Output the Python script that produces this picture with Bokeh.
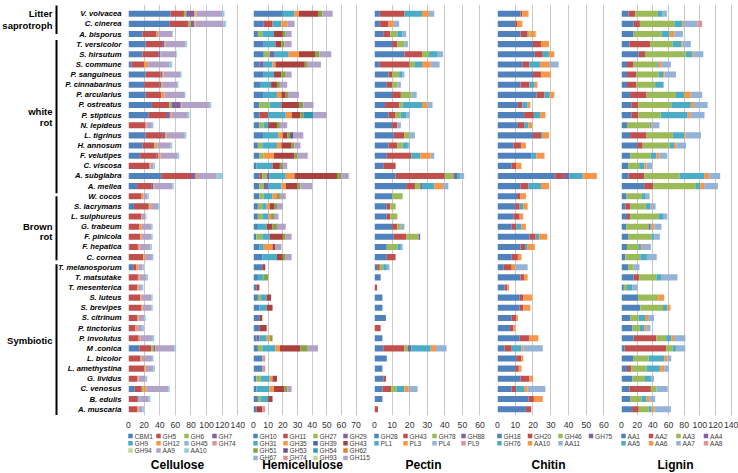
from bokeh.plotting import figure
from bokeh.models import Range1d, FixedTicker, ColumnDataSource, Spacer
from bokeh.layouts import row, column
from bokeh.core.properties import value
from bokeh.embed import file_html
from bokeh.resources import INLINE

species = ["V. volvacea", "C. cinerea", "A. bisporus", "T. versicolor", "S. hirsutum",
           "S. commune", "P. sanguineus", "P. cinnabarinus", "P. arcularius", "P. ostreatus",
           "P. stipticus", "N. lepideus", "L. tigrinus", "H. annosum", "F. velutipes",
           "C. viscosa", "A. subglabra", "A. mellea", "W. cocos", "S. lacrymans",
           "L. sulphureus", "G. trabeum", "F. pinicola", "F. hepatica", "C. cornea",
           "T. melanosporum", "T. matsutake", "T. mesenterica", "S. luteus", "S. brevipes",
           "S. citrinum", "P. tinctorius", "P. involutus", "M .conica", "L. bicolor",
           "L. amethystina", "G. lividus", "C. venosus", "B. edulis", "A. muscaria"]

group_text = ["Litter", "saprotroph", "white", "rot", "Brown", "rot", "Symbiotic"]
group_text_row = [0.0, 1.15, 9.65, 10.75, 21.0, 22.0, 32.2]
group_line_start = [-0.8, 2.6, 18.0, 24.7]
group_line_end = [2.0, 17.7, 24.3, 39.7]

# ---------------- Cellulose ----------------
cel_names = ["CBM1", "GH5", "GH6", "GH7", "GH9", "GH12", "GH45", "GH74", "GH94", "AA9", "AA10"]
cel_CBM1 = [54,53,18,22,18,4,22,20,22,30, 26,0,22,18,15,0,42,11,0,7, 0,0,0,1,0,6,0,0,0,0, 0,0,0,14,0,0,0,8,0,0]
cel_GH5 = [17,24,18,21,20,16,19,20,20,22, 22,22,22,15,21,27,38,18,16,19, 16,14,15,11,19,4,12,11,15,16, 11,9,13,15,15,20,11,9,12,11]
cel_GH6 = [3,3,0,0,0,0,0,0,0,3, 0,0,0,2,0,0,0,0,0,1, 0,0,0,0,0,0,0,0,0,0, 0,0,0,3,0,0,0,2,0,0]
cel_GH7 = [10,4,0,3,3,0,2,2,0,12, 5,0,3,0,2,0,6,3,0,0, 0,0,0,0,0,0,0,0,0,0, 0,0,0,2,0,0,0,0,0,0]
cel_GH9 = [0,0,0,0,0,0,0,0,0,0, 0,0,0,0,0,0,1,0,0,0, 0,0,0,0,0,0,0,0,0,0, 0,0,0,0,0,0,0,0,0,0]
cel_GH12 = [2,2,2,1,0,5,2,2,4,1, 2,1,2,2,3,1,2,1,3,2, 1,3,2,2,2,3,2,2,2,2, 2,2,2,1,2,2,2,4,0,2]
cel_GH45 = [0,0,1,0,1,0,0,0,0,0, 0,0,0,0,0,0,0,0,0,0, 0,0,0,0,0,0,0,0,0,0, 0,0,0,0,0,0,0,0,3,0]
cel_GH74 = [1,0,0,0,0,0,0,0,0,0, 0,0,0,0,0,0,0,0,0,0, 0,0,0,0,0,0,0,0,0,0, 0,0,0,0,0,0,0,0,0,0]
cel_GH94 = [0,0,0,0,0,0,0,0,0,0, 0,0,0,0,0,0,0,0,0,0, 0,0,0,0,0,0,0,0,0,0, 0,0,0,0,0,0,0,0,0,0]
cel_AA9 = [33,36,17,26,19,27,21,19,25,36, 21,7,23,17,22,4,24,23,5,9, 5,12,12,14,9,5,9,4,12,11, 7,7,15,24,13,10,9,28,10,5]
cel_AA10 = [3,3,1,2,1,4,2,1,2,2, 2,2,2,2,2,2,8,2,2,2, 1,2,2,2,2,2,2,2,2,2, 2,2,3,2,2,2,2,2,3,2]
cel_ticks = [0, 20, 40, 60, 80, 100, 120, 140]

# ---------------- Hemicellulose ----------------
hem_names = ["GH10", "GH11", "GH27", "GH29", "GH31", "GH35", "GH39", "GH43",
             "GH51", "GH53", "GH54", "GH62", "GH67", "GH74", "GH93", "GH115"]
hem_GH10 = [20,7,3,7,7,4,7,5,7,4, 4,4,7,3,4,2,4,4,4,3, 3,3,2,4,6,6,3,2,3,4, 4,4,2,3,6,6,2,2,3,2]
hem_GH11 = [0,6,0,0,0,0,0,0,0,0, 6,0,0,0,0,0,2,0,0,0, 0,0,0,0,0,0,0,0,0,0, 0,0,0,0,0,0,0,0,0,0]
hem_GH27 = [0,0,3,0,4,0,0,0,0,7, 0,3,0,3,3,0,3,3,3,3, 3,0,4,0,0,0,0,0,2,0, 0,0,0,3,0,0,3,0,2,0]
hem_GH29 = [0,0,0,0,3,3,0,0,0,0, 0,0,0,0,0,0,2,3,0,0, 0,0,0,0,0,0,0,0,0,0, 0,0,2,0,0,0,0,0,0,0]
hem_GH31 = [8,6,8,8,10,6,7,7,9,8, 12,3,10,10,0,11,11,9,6,3, 4,6,5,3,10,0,4,0,4,5, 0,0,5,9,0,0,6,9,5,0]
hem_GH35 = [3,4,0,0,7,2,0,0,3,0, 4,0,3,3,7,0,6,3,3,2, 2,0,0,6,0,0,0,0,0,0, 0,0,2,3,0,0,2,3,0,0]
hem_GH39 = [0,0,0,0,0,0,0,0,0,0, 0,0,0,0,0,0,0,0,0,0, 0,0,0,0,0,0,0,0,0,0, 0,0,0,0,0,0,0,0,0,0]
hem_GH43 = [13,0,6,4,11,20,5,4,3,12, 6,6,3,7,14,5,29,8,0,3, 0,4,9,2,4,2,0,2,3,4, 2,5,0,14,0,0,3,7,3,4]
hem_GH51 = [3,0,2,2,3,2,3,2,2,3, 2,2,2,2,2,2,3,2,2,2, 2,3,2,0,2,0,3,0,0,0, 0,0,2,5,0,0,0,2,0,0]
hem_GH53 = [0,0,0,0,0,0,0,0,0,0, 0,0,2,0,0,0,0,0,0,0, 0,0,0,0,0,0,0,0,0,0, 0,0,0,0,0,0,0,0,0,0]
hem_GH54 = [0,0,0,0,0,0,0,0,0,0, 7,0,0,0,0,0,0,0,0,0, 0,0,0,0,0,0,0,0,0,0, 0,0,0,0,0,0,0,0,0,0]
hem_GH62 = [0,0,0,0,0,0,0,0,0,0, 0,0,0,0,0,0,0,0,0,0, 0,0,0,0,0,0,0,0,0,0, 0,0,0,0,0,0,0,0,0,0]
hem_GH67 = [0,0,0,0,0,0,0,0,0,0, 0,0,0,0,0,0,0,0,0,0, 0,0,0,0,0,0,0,0,0,0, 0,0,0,0,0,0,0,0,0,0]
hem_GH74 = [0,0,0,0,0,0,0,0,0,0, 0,0,0,0,0,0,0,0,0,0, 0,0,0,0,0,0,0,0,0,0, 0,0,0,0,2,2,0,0,0,2]
hem_GH93 = [0,0,0,0,0,0,0,0,0,0, 0,0,0,0,0,0,0,0,0,0, 0,0,0,0,0,0,0,0,0,0, 0,0,0,0,0,0,0,0,0,0]
hem_GH115 = [7,5,4,5,8,9,4,5,7,7, 9,5,7,4,7,3,5,8,4,4, 3,6,4,4,4,0,0,0,0,0, 0,0,0,7,0,0,0,3,0,0]
hem_ticks = [0, 10, 20, 30, 40, 50, 60, 70]

# ---------------- Pectin ----------------
pec_names = ["GH28", "GH43", "GH78", "GH88", "PL1", "PL3", "PL4", "PL9"]
pec_GH28 = [3,3,5,10,17,3,8,7,10,6, 8,10,11,8,7,5,12,18,10,7, 7,10,11,7,7,1.5,3.5,0,4.5,4.5, 6.5,0,4.5,5,7,4.5,5,4.5,4.5,0]
pec_GH43 = [14,5,4,3,10,17,2,3,5,8, 4,3,6,5,14,7,28,5,0,2, 2,3,7,0,5,1.5,0,1.5,0,0, 0,3.5,0,12,0,0,1.5,5,0,2]
pec_GH78 = [0,0,4,4,4,3,4,3,6,2, 3,0,3,3,0,0,5,3,6,3, 4,2,7,6,0,2,0,0,0,0, 0,0,0,2,0,0,0,3,0,0]
pec_GH88 = [0,0,0,0,0,0,0,0,0,0, 0,0,0,0,0,0,2,1,0,0, 0,0,1,0,0,0,0,0,0,0, 0,0,0,2,0,0,0,0,0,0]
pec_PL1 = [10,0,3,0,5,4,2,0,0,11, 3,0,0,3,5,0,2,7,0,0, 0,0,0,2,0,2,0,0,0,0, 0,0,0,11,0,0,0,4.5,0,0]
pec_PL3 = [4,3,0,0,0,5,0,0,0,3, 0,0,0,0,6,0,0,5,0,0, 0,0,0,0,0,0,0,0,0,0, 0,0,0,3,0,0,0,2.5,0,0]
pec_PL4 = [3,3,2,2,3,5,1,2,3,3, 2,2,3,1,2,0,2,3,0,0, 0,2,0,1,0,1.5,0,0,0,0, 0,0,0,6,0,0,0,5,0,0]
pec_PL9 = [0,0,0,0,0,0,0,0,0,0, 0,0,0,0,0,0,0,0,0,0, 0,0,0,0,0,0,0,0,0,0, 0,0,0,0,0,0,0,0,0,0]
pec_ticks = [0, 10, 20, 30, 40, 50, 60]

# ---------------- Chitin ----------------
chi_names = ["GH18", "GH20", "GH46", "GH75", "GH76", "AA10", "AA11"]
chi_GH18 = [13,10,13,20,21,14,20,13,22,11.5, 15,11.5,20,9,19,8,32.5,13,11,10, 9,8,18,13,8,3.5,13,4,12.5,12.5, 8,7,12.5,4,10.5,10,13,8,17.5,16]
chi_GH20 = [1,1,4,4.5,4.5,4,4.5,5,4.5,2.5, 5.5,3.5,4.5,4.5,0,2.5,4.5,4.5,2,2.5, 3.5,2.5,3.5,2.5,3.5,4.5,2,1.5,2,2, 2.5,2,5.5,4,3,2,5,2.5,3,3]
chi_GH46 = [0,0,1,0,0,0,0,0,0,0, 0,0,0,0,0,0,0,0,0,0, 0,0,0,0,0,0,0,0,0,0, 0,0,0,0,0,0,0,0,0,0]
chi_GH75 = [0,0,0,0,0,0,0,0,0,0, 0,0,0,0,0,0,3.5,0,0,0, 0,0,0,0,0,0,0,0,0,0, 0,0,0,0,0,0,0,0,0,0]
chi_GH76 = [0,0,0,0,3.5,6,0,3,3,3, 3.5,2.5,1,0,3,0,7.5,7,0,2, 0,3,2,1.5,0,0,0,0,0,0, 0,0,0,5.5,0,0,0,4.5,0,0]
chi_AA10 = [3.5,3,3.5,4.5,3,5.5,5.5,1.5,2.5,1.5, 3,2,3.5,2.5,4.5,3,8,4.5,3,2.5, 2,2.5,4.5,4,2,2,2,1,5,4, 1,1,5,1,1,1.5,2,2,5,0]
chi_AA11 = [0,0,0,0,0,5,0,0,0,0, 0,0,0,0,0,0,0,0,0,0, 0,0,0,0,0,7,0,0,0,0, 0,0,0,11,0,0,0,10,0,0]
chi_ticks = [0, 10, 20, 30, 40, 50, 60]

# ---------------- Lignin ----------------
lig_names = ["AA1", "AA2", "AA3", "AA4", "AA5", "AA6", "AA7", "AA8"]
lig_AA1 = [9,15.5,15.5,10,22,7,7,7,11,12.5, 12.5,7,11,20,11,8.5,9,29,6.5,5, 7,6,8.5,7,5,8.5,15.5,3,21,24, 11,14,15.5,4,15.5,7,14,10,11,13.5]
lig_AA2 = [8.5,8,0,26.5,8,8.5,11.5,12,21,9, 9,0,21,7,0,0,20,11.5,0,6.5, 4,0,0,0,0,0,7,0,0,0, 0,0,29,53,0,5.5,0,27.5,0,8.5]
lig_AA3 = [29,44,35.5,29,52,29,29,24,37.5,42, 28.5,29,33.5,34.5,26.5,14,45,54.5,19.5,19.5, 36,28.5,30,14.5,19,7,22,4,26,29, 10.5,9.5,12.5,8.5,19,19.5,16,7,14.5,12.5]
lig_AA4 = [0,0,0,0,0,0,0,0,0,0, 0,0,0,0,0,0,0,0,0,0, 0,2,0,0,0,0,0,0,0,0, 0,0,0,0,0,0,0,0,0,0]
lig_AA5 = [6,10.5,10.5,10.5,8.5,2,5.5,10,10.5,25, 34.5,2,14.5,5.5,7,6.5,31.5,5.5,4,5.5, 6,2,3.5,4,8.5,0,6,6.5,0,5.5, 8.5,5.5,6.5,4,20,17,8.5,0,6.5,4]
lig_AA6 = [0,2,6,2,2,4,2,0,8.5,4, 4,2,2,3,4,3,6.5,5,0,1, 0,3.5,0,2,0,0,0,0,7.5,4, 4,3,3.5,0,4,5.5,0,0,4,3.5]
lig_AA7 = [5.5,17,11,10.5,12,12.5,14.5,1,14.5,17.5, 17.5,8.5,19.5,12.5,10,7,14,17.5,6,6, 5.5,9,7,10,12.5,7.5,21,7,0,0, 7.5,5,14.5,12,5,6,3,14.5,7,21]
lig_AA8 = [0,6,0,0,0,0,0,0,0,0, 0,0,0,0,0,0,0,0,0,0, 0,0,0,0,0,0,0,0,0,0, 0,0,0,0,0,0,0,0,0,0]
lig_ticks = [0, 20, 40, 60, 80, 100, 120, 140]

BASE = ["#4F81BD", "#C0504D", "#9BBB59", "#8064A2", "#4BACC6", "#F79646"]
DARK = ["#3A6AA8", "#A9423F", "#84A343", "#6A5290", "#3497B2", "#E0802F"]
LIGHT = ["#95B3D7", "#D99694", "#C3D69B", "#B3A2C7", "#93CDDD", "#FAC090"]

FONT = "Liberation Sans"
FH = 411
TOP = 4
BOTTOM_H = 42
LEFT_W = 124
rows = list(range(len(species)))


def yrange():
    return Range1d(39.62, -0.91)


# ---------------- left label figure ----------------
lab = figure(frame_width=LEFT_W, frame_height=FH, x_range=Range1d(0, LEFT_W), y_range=yrange(),
             x_axis_location=None, y_axis_location=None, toolbar_location=None,
             output_backend="svg", min_border=0, min_border_top=TOP, outline_line_color=None)
lab.grid.visible = False
lab.text(x=[121] * len(species), y=rows, text=species, text_align="right",
         text_baseline="middle", text_font=value(FONT), text_font_style="bold italic",
         text_font_size="7.7px", text_color="#000000")
lab.text(x=[52] * len(group_text), y=group_text_row, text=group_text, text_align="right",
         text_baseline="middle", text_font=value(FONT), text_font_style="bold",
         text_font_size="9.5px", text_color="#000000")
lab.segment(x0=[56] * 4, x1=[56] * 4, y0=group_line_start, y1=group_line_end,
            line_color="#000000", line_width=2)


def panel(names, cols, colors, xmax, ticks, fw, mbl, mbr):
    data = dict(y=rows)
    for n, c in zip(names, cols):
        data[n] = c
    src = ColumnDataSource(data)
    p = figure(frame_width=fw, frame_height=FH, x_range=Range1d(0, xmax), y_range=yrange(),
               y_axis_location=None, toolbar_location=None, output_backend="svg",
               min_border_left=mbl, min_border_right=mbr, min_border_top=TOP, min_border_bottom=0,
               outline_line_color=None)
    p.hbar_stack(names, y="y", height=0.6, source=src, color=colors, line_color=None)
    p.ygrid.visible = False
    p.xgrid.grid_line_color = "#c9c9c9"
    p.xgrid.grid_line_width = 1
    p.xaxis.ticker = FixedTicker(ticks=ticks)
    p.xaxis.axis_line_color = None
    p.xaxis.major_tick_line_color = None
    p.xaxis.minor_tick_line_color = None
    p.xaxis.major_label_standoff = 0
    p.xaxis.major_label_text_font = FONT
    p.xaxis.major_label_text_font_size = "8.7px"
    p.xaxis.major_label_text_color = "#333333"
    return p


def legend_block(title, names, colors, bw, lx, tx, pitch):
    # legend swatches + labels + panel title, in a pixel-unit strip under the panel
    q = figure(frame_width=bw, frame_height=BOTTOM_H, x_range=Range1d(0, bw),
               y_range=Range1d(BOTTOM_H, 0), x_axis_location=None, y_axis_location=None,
               toolbar_location=None, output_backend="svg", min_border=0,
               outline_line_color=None)
    q.grid.visible = False
    ncol = 4
    sx = [lx + 2 + (i % ncol) * pitch for i in range(len(names))]
    sy = [5.5 + (i // ncol) * 7.3 for i in range(len(names))]
    q.scatter(x=sx, y=sy, marker="square", size=4.5, color=colors, line_color=None)
    q.text(x=[v + 4 for v in sx], y=sy, text=names, text_align="left", text_baseline="middle",
           text_font=value(FONT), text_font_size="6.6px", text_color="#404040")
    q.text(x=[tx], y=[34], text=[title], text_align="center", text_baseline="middle",
           text_font=value(FONT), text_font_style="bold", text_font_size="12px",
           text_color="#000000")
    return q


specs = [
    ("Cellulose", cel_names,
     [cel_CBM1, cel_GH5, cel_GH6, cel_GH7, cel_GH9, cel_GH12, cel_GH45, cel_GH74, cel_GH94, cel_AA9, cel_AA10],
     BASE + LIGHT[:5], 146, cel_ticks, 114, 4, 6, 28),
    ("Hemicellulose", hem_names,
     [hem_GH10, hem_GH11, hem_GH27, hem_GH29, hem_GH31, hem_GH35, hem_GH39, hem_GH43,
      hem_GH51, hem_GH53, hem_GH54, hem_GH62, hem_GH67, hem_GH74, hem_GH93, hem_GH115],
     BASE + DARK + LIGHT[:4], 73, hem_ticks, 107, 5, 4, 30),
    ("Pectin", pec_names,
     [pec_GH28, pec_GH43, pec_GH78, pec_GH88, pec_PL1, pec_PL3, pec_PL4, pec_PL9],
     BASE + LIGHT[:2], 62, pec_ticks, 109, 10, 4, 29),
    ("Chitin", chi_names,
     [chi_GH18, chi_GH20, chi_GH46, chi_GH75, chi_GH76, chi_AA10, chi_AA11],
     BASE + LIGHT[:1], 62, chi_ticks, 110, 10, 4, 30.5),
    ("Lignin", lig_names,
     [lig_AA1, lig_AA2, lig_AA3, lig_AA4, lig_AA5, lig_AA6, lig_AA7, lig_AA8],
     BASE + LIGHT[:2], 143, lig_ticks, 112, 10, 5, 27.5),
]

# strips under the panels: [start, end) in page pixels, and title centres
block_edges = [124, 250, 372, 495, 618, 738]
title_centres = [177, 302, 423, 548, 675]

tops = [lab]
bottoms = [Spacer(width=LEFT_W, height=BOTTOM_H)]
start = LEFT_W
for k, (title, names, cols, colors, xmax, ticks, fw, mbl, mbr, pitch) in enumerate(specs):
    tops.append(panel(names, cols, colors, xmax, ticks, fw, mbl, mbr))
    frame_left = start + mbl
    b0, b1 = block_edges[k], block_edges[k + 1]
    bottoms.append(legend_block(title, names, colors, b1 - b0, frame_left - b0,
                                title_centres[k] - b0, pitch))
    start += mbl + fw + mbr

layout = column(row(*tops), row(*bottoms))
open("out.html", "w").write(file_html(layout, INLINE))
